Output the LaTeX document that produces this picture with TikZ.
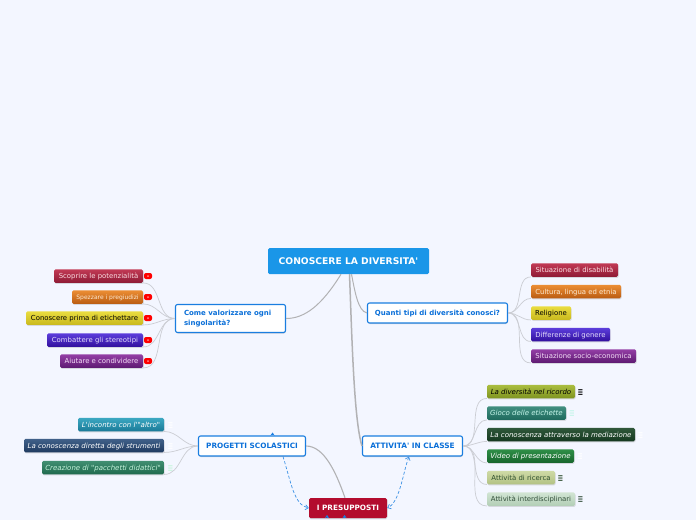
\documentclass[tikz,border=0pt]{standalone}
\usepackage{fontspec}
\setmainfont[Ligatures=TeXOff]{DejaVu Sans}
\usetikzlibrary{shadows,arrows.meta}

\newcommand{\notemark}{\scalebox{0.62}[1.15]{≡}}

\definecolor{pagebg}{HTML}{F3F6FF}
\definecolor{blueline}{HTML}{1A7EE0}
\definecolor{bluetext}{HTML}{0A6FD8}
\definecolor{twigline}{HTML}{CBCDD3}
\definecolor{mainline}{HTML}{B2B2B4}
\definecolor{rootblue}{HTML}{1A96E8}
\definecolor{presred}{HTML}{B30C2E}
\definecolor{crimsontop}{HTML}{C23A55}\definecolor{crimsonlow}{HTML}{8E1A35}\definecolor{crimsontext}{HTML}{FBDDE2}
\definecolor{ambertop}{HTML}{EC8E34}\definecolor{amberlow}{HTML}{BA5C12}\definecolor{ambertext}{HTML}{FDEBD3}
\definecolor{lemontop}{HTML}{EADD40}\definecolor{lemonlow}{HTML}{C9B91E}
\definecolor{violettop}{HTML}{5C3EDC}\definecolor{violetlow}{HTML}{32109E}\definecolor{violettext}{HTML}{E4DDFB}
\definecolor{plumtop}{HTML}{943FA6}\definecolor{plumlow}{HTML}{5E1A72}\definecolor{plumtext}{HTML}{F3DDF6}
\definecolor{olivetop}{HTML}{ABBE40}\definecolor{olivelow}{HTML}{7F9420}
\definecolor{tealtop}{HTML}{418F80}\definecolor{teallow}{HTML}{1F6A5E}\definecolor{tealtext}{HTML}{C5F5EA}
\definecolor{foresttop}{HTML}{30583A}\definecolor{forestlow}{HTML}{143820}
\definecolor{grasstop}{HTML}{2F8F47}\definecolor{grasslow}{HTML}{17662C}
\definecolor{sagetop}{HTML}{CFDAA6}\definecolor{sagelow}{HTML}{B2C284}\definecolor{sagetext}{HTML}{2F4F2F}
\definecolor{minttop}{HTML}{D2E5D4}\definecolor{mintlow}{HTML}{B2CEB6}\definecolor{minttext}{HTML}{34503C}
\definecolor{aquatop}{HTML}{3CA8C2}\definecolor{aqualow}{HTML}{1A7A98}
\definecolor{navytop}{HTML}{41618A}\definecolor{navylow}{HTML}{1F3A60}
\definecolor{jadetop}{HTML}{418F72}\definecolor{jadelow}{HTML}{1F6A4E}\definecolor{jadetext}{HTML}{C8F5DE}

\begin{document}
\begin{tikzpicture}[
        x=1pt,
        y=-1pt,
        every node/.style={font=\fontsize{6.9}{8}\selectfont},
        root/.style={
            fill=rootblue,
            rounded corners=1.5pt,
            text=white,
            inner sep=0pt,
            minimum width=161pt,
            minimum height=26pt,
            font=\fontsize{9.2}{10}\selectfont\bfseries
        },
        topic/.style={
            draw=blueline,
            fill=white,
            line width=1.1pt,
            rounded corners=2pt,
            text=bluetext,
            inner sep=0pt,
            minimum height=20pt,
            align=left,
            font=\fontsize{7}{10}\selectfont\bfseries,
            drop shadow={shadow xshift=0.4pt,shadow yshift=-1pt,opacity=0.3,fill=gray}
        },
        alarm/.style={
            fill=presred,
            rounded corners=1.5pt,
            text=white,
            inner sep=0pt,
            minimum width=78pt,
            minimum height=20pt,
            font=\fontsize{7.3}{8}\selectfont\bfseries,
            drop shadow={shadow xshift=0.4pt,shadow yshift=-1pt,opacity=0.3,fill=gray}
        },
        leaf/.style={
            rounded corners=1.5pt,
            inner sep=0pt,
            minimum height=13.5pt,
            text height=6pt,
            text depth=0.5pt,
            drop shadow={shadow xshift=0.6pt,shadow yshift=-1.2pt,opacity=0.25,fill=gray}
        },
        slanted/.style={font=\fontsize{7}{8}\selectfont\itshape},
        leafcrimson/.style={top color=crimsontop,bottom color=crimsonlow,text=crimsontext},
        leafamber/.style={top color=ambertop,bottom color=amberlow,text=ambertext},
        leaflemon/.style={top color=lemontop,bottom color=lemonlow,text=black},
        leafviolet/.style={top color=violettop,bottom color=violetlow,text=violettext},
        leafplum/.style={top color=plumtop,bottom color=plumlow,text=plumtext},
        leafolive/.style={top color=olivetop,bottom color=olivelow,text=black,slanted},
        leafteal/.style={top color=tealtop,bottom color=teallow,text=tealtext,slanted},
        leafforest/.style={top color=foresttop,bottom color=forestlow,text=white,slanted},
        leafgrass/.style={top color=grasstop,bottom color=grasslow,text=white,slanted},
        leafsage/.style={top color=sagetop,bottom color=sagelow,text=sagetext},
        leafmint/.style={top color=minttop,bottom color=mintlow,text=minttext},
        leafaqua/.style={top color=aquatop,bottom color=aqualow,text=white,slanted},
        leafnavy/.style={top color=navytop,bottom color=navylow,text=white,slanted},
        leafjade/.style={top color=jadetop,bottom color=jadelow,text=jadetext,slanted},
        flagbox/.style={
            fill=red,
            rounded corners=2pt,
            inner sep=0pt,
            minimum width=8pt,
            minimum height=6pt,
            path picture={\fill[white!55!red] (path picture bounding box.center) circle (1pt);}
        },
        notes/.style={inner sep=0pt,yshift=-1.5pt,font=\fontsize{11}{11}\selectfont},
        twig/.style={draw=twigline,line width=0.7pt},
        branch/.style={draw=mainline,line width=1pt},
        dashlink/.style={draw=blueline!85,line width=0.7pt,dash pattern=on 3pt off 2pt,>={Straight Barb[length=3pt,width=5pt]}},
        tiplink/.style={draw=blueline,line width=0.7pt,->,>={Stealth[length=3pt,width=4pt]}}
    ]

    \fill[pagebg] (0,0) rectangle (696,520);
    \useasboundingbox (0,0) rectangle (696,520);

    % Central node and topics
    \node[root] (diversita) at (348.5,261) {CONOSCERE LA DIVERSITA'};
    \node[topic,minimum width=110pt,minimum height=28pt,text width=93pt] (valorizzare) at (230.5,318.5) {Come valorizzare ogni\\singolarità?};
    \node[topic,minimum width=140pt] (quanti) at (437.5,313) {Quanti tipi di diversità conosci?};
    \node[topic,minimum width=100pt,font=\fontsize{7.4}{10}\selectfont\bfseries] (attivita) at (412.5,446) {ATTIVITA' IN CLASSE};
    \node[topic,minimum width=107pt,font=\fontsize{7.3}{10}\selectfont\bfseries] (progetti) at (252,446) {PROGETTI SCOLASTICI};
    \node[alarm] (presupposti) at (348,508) {I PRESUPPOSTI};

    % Left leaves
    \node[leaf,leafcrimson,minimum width=89pt] (scoprire) at (98.5,276) {Scoprire le potenzialità};
    \node[leaf,leafamber,minimum width=71pt,font=\fontsize{6}{7}\selectfont] (spezzare) at (107.5,297) {Spezzare i pregiudizi};
    \node[leaf,leaflemon,minimum width=117pt] (etichettare) at (84.5,318) {Conoscere prima di etichettare};
    \node[leaf,leafviolet,minimum width=96pt] (stereotipi) at (95,340) {Combattere gli stereotipi};
    \node[leaf,leafplum,minimum width=83pt] (aiutare) at (101.5,361) {Aiutare e condividere};

    % Red flags
    \node[flagbox] (flagscoprire) at (148,276) {};
    \node[flagbox] (flagspezzare) at (148,297) {};
    \node[flagbox] (flagetichettare) at (148,318) {};
    \node[flagbox] (flagstereotipi) at (148,340) {};
    \node[flagbox] (flagaiutare) at (148,361) {};

    % Right leaves
    \node[leaf,leafcrimson,minimum width=87pt] (disabilita) at (574.5,270) {Situazione di disabilità};
    \node[leaf,leafamber,minimum width=90pt] (cultura) at (576,291.5) {Cultura, lingua ed etnia};
    \node[leaf,leaflemon,minimum width=40pt] (religione) at (551,313) {Religione};
    \node[leaf,leafviolet,minimum width=79pt] (genere) at (570.5,334.5) {Differenze di genere};
    \node[leaf,leafplum,minimum width=105pt] (socio) at (583.5,356) {Situazione socio-economica};

    % Class activities
    \node[leaf,leafolive,minimum width=88pt] (ricordo) at (531,391.5) {La diversità nel ricordo};
    \node[leaf,leafteal,minimum width=79pt] (gioco) at (526.5,413) {Gioco delle etichette};
    \node[leaf,leafforest,minimum width=148pt] (mediazione) at (561,434.5) {La conoscenza attraverso la mediazione};
    \node[leaf,leafgrass,minimum width=87pt] (video) at (530.5,456) {Video di presentazione};
    \node[leaf,leafsage,minimum width=68pt] (ricerca) at (521,477.5) {Attività di ricerca};
    \node[leaf,leafmint,minimum width=88pt] (interdisciplinari) at (531,499) {Attività interdisciplinari};

    \node[notes,text=black] (notericordo) at (580.5,391.5) {\notemark};
    \node[notes,text=tealtext] (notegioco) at (572,413) {\notemark};
    \node[notes,text=white] (notemediazione) at (640.5,434.5) {\notemark};
    \node[notes,text=white] (notevideo) at (580,456) {\notemark};
    \node[notes,text=sagetext] (markricerca) at (560.5,477.5) {\notemark};
    \node[notes,text=minttext] (noteinterdisciplinari) at (580.5,499) {\notemark};

    % School projects
    \node[leaf,leafaqua,minimum width=86pt] (incontro) at (121,424.5) {L'incontro con l'"altro"};
    \node[leaf,leafnavy,minimum width=140pt] (strumenti) at (94,445.5) {La conoscenza diretta degli strumenti};
    \node[leaf,leafjade,minimum width=122pt] (creazione) at (103,467.5) {Creazione di "pacchetti didattici"};

    \node[notes,text=white] (noteincontro) at (170.5,424.5) {\notemark};
    \node[notes,text=white] (notestrumenti) at (170.5,445.5) {\notemark};
    \node[notes,text=jadetext] (notecreazione) at (170.5,467.5) {\notemark};

    % Main branches
    \draw[branch] ([xshift=-7.5pt]diversita.south) .. controls (322,305) and (305,318.5) .. (valorizzare.east);
    \draw[branch] ([xshift=3pt]diversita.south) .. controls (355,292) and (358,311) .. (quanti.west);
    \draw[branch,line width=1.5pt] ([xshift=1pt]diversita.south) .. controls (352,340) and (354,420) .. (attivita.west);
    \draw[branch,line width=1.1pt] (progetti.east) .. controls (324,446) and (336,472) .. ([xshift=-3pt]presupposti.north);

    % Twigs on the left
    \draw[twig] (valorizzare.west) to[out=180,in=0] (scoprire.south east);
    \draw[twig] (valorizzare.west) to[out=180,in=0] (spezzare.south east);
    \draw[twig] (valorizzare.west) to[out=180,in=0] (etichettare.south east);
    \draw[twig] (valorizzare.west) to[out=180,in=0] (stereotipi.south east);
    \draw[twig] (valorizzare.west) to[out=180,in=0] (aiutare.south east);

    % Twigs on the right
    \draw[twig] (quanti.east) to[out=0,in=180] (disabilita.south west);
    \draw[twig] (quanti.east) to[out=0,in=180] (cultura.south west);
    \draw[twig] (quanti.east) to[out=0,in=180] (religione.south west);
    \draw[twig] (quanti.east) to[out=0,in=180] (genere.south west);
    \draw[twig] (quanti.east) to[out=0,in=180] (socio.south west);

    \draw[twig] (attivita.east) to[out=0,in=180] (ricordo.south west);
    \draw[twig] (attivita.east) to[out=0,in=180] (gioco.south west);
    \draw[twig] (attivita.east) to[out=0,in=180] (mediazione.south west);
    \draw[twig] (attivita.east) to[out=0,in=180] (video.south west);
    \draw[twig] (attivita.east) to[out=0,in=180] (ricerca.south west);
    \draw[twig] (attivita.east) to[out=0,in=180] (interdisciplinari.south west);

    \draw[twig] (progetti.west) to[out=180,in=0] (incontro.south east);
    \draw[twig] (progetti.west) to[out=180,in=0] (strumenti.south east);
    \draw[twig] (progetti.west) to[out=180,in=0] (creazione.south east);

    % Dashed links
    \draw[dashlink,->] ([xshift=31pt]progetti.south) .. controls (291,482) and (294,505) .. (presupposti.west);
    \draw[dashlink,<->] ([xshift=-3.5pt]attivita.south) .. controls (403,472) and (400,502) .. (presupposti.east);

    % Stubs of hidden links
    \coordinate (tipprogetti) at (272.5,432.5);
    \coordinate (tipleft) at (327,515);
    \coordinate (tipright) at (344.5,515);
    \draw[tiplink] (tipprogetti |- progetti.north) -- (tipprogetti);
    \draw[tiplink] (tipleft |- presupposti.south) -- (tipleft);
    \draw[tiplink] (tipright |- presupposti.south) -- (tipright);

    \end{tikzpicture}
\end{document}
